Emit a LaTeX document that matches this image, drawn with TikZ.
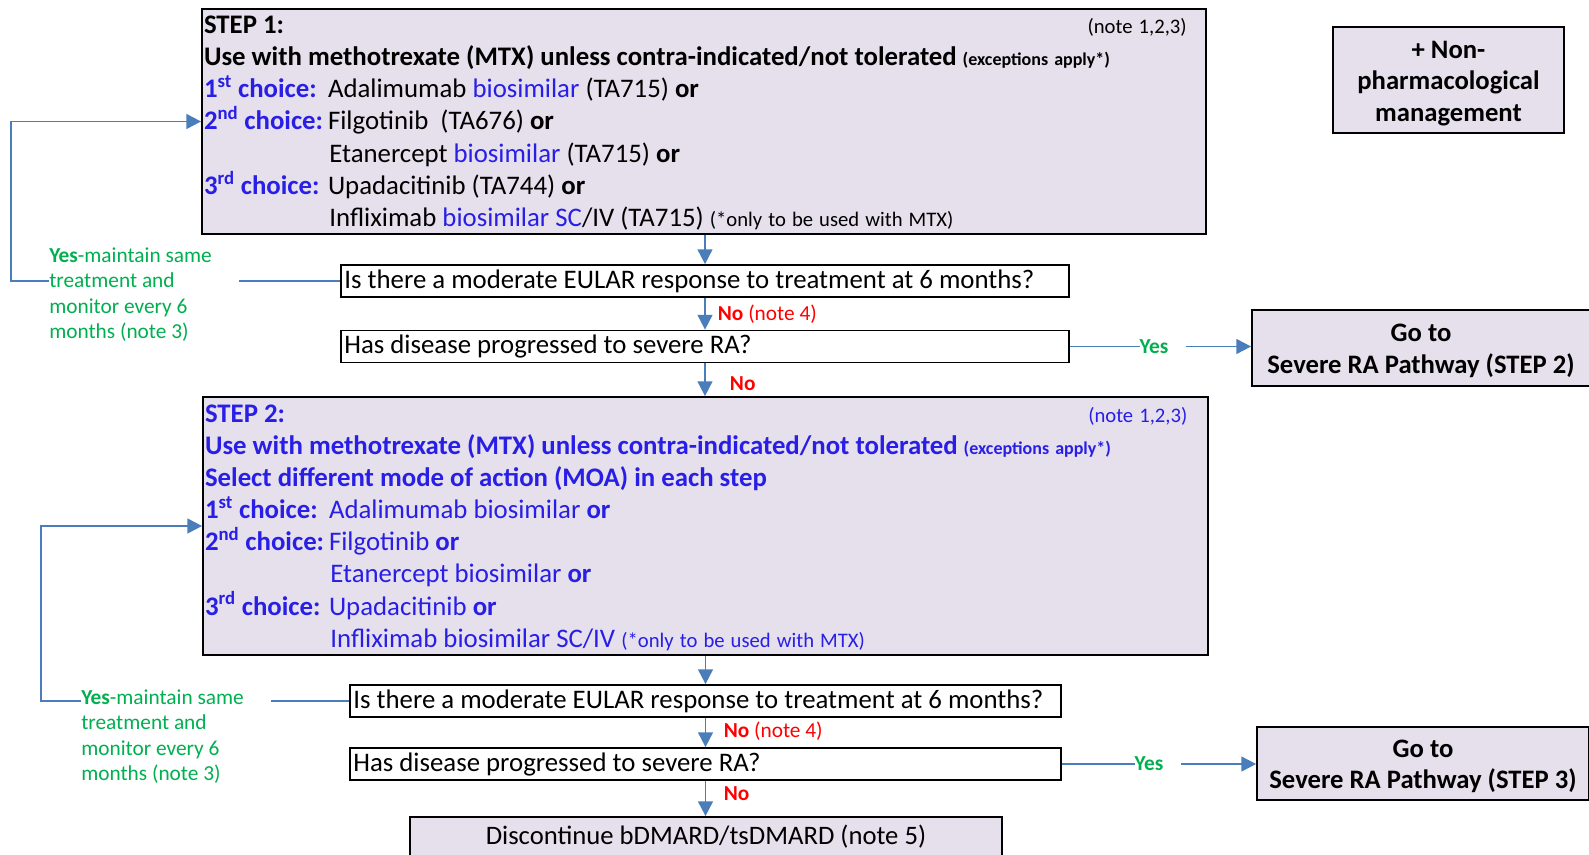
\documentclass[tikz,border=0pt]{standalone}
\usepackage{fontspec}
\setmainfont{Carlito}
\usetikzlibrary{arrows.meta,positioning}

\definecolor{stepblue}{RGB}{40,30,230}
\definecolor{yesgreen}{RGB}{0,176,80}
\definecolor{nored}{RGB}{255,0,0}
\definecolor{boxfill}{RGB}{229,224,236}
\definecolor{linkblue}{RGB}{74,126,187}

\newcommand{\natspace}{\spaceskip=0.226em plus 0.1em\relax}
\newcommand{\choicelabel}[2]{\makebox[93pt][l]{\textcolor{stepblue}{\textbf{#1\textsuperscript{#2} choice:}}}}
\newcommand{\nochoice}{\makebox[94pt]{}}
\newcommand{\smallnote}{\fontsize{13.5}{16}\selectfont}
\newcommand{\mtxnote}{\fontsize{15.5}{18}\selectfont}

\tikzset{
  stepbox/.style={draw=black, line width=1.3pt, fill=boxfill, inner xsep=1.5pt, inner ysep=0pt,
    align=left, font=\fontsize{20.1}{24.1}\selectfont},
  askbox/.style={draw=black, line width=1.3pt, fill=white, inner xsep=2.5pt, inner ysep=0pt,
    align=left, minimum height=24pt, font=\fontsize{20.1}{24}\selectfont},
  gobox/.style={draw=black, line width=1.3pt, fill=boxfill, align=center,
    font=\fontsize{20}{23.6}\selectfont\bfseries},
  endbox/.style={draw=black, line width=1.3pt, fill=boxfill, align=center,
    font=\fontsize{20}{24}\selectfont},
  flow/.style={draw=linkblue, line width=1.4pt, -{Triangle[length=11pt,width=11pt]}},
  link/.style={draw=linkblue, line width=1.4pt},
  yesnote/.style={text=yesgreen, font=\fontsize{16}{19}\selectfont, align=left,
    inner xsep=0pt, text width=141.75pt},
  nolabel/.style={text=nored, font=\fontsize{16}{19}\selectfont, inner sep=1pt},
  yeslabel/.style={text=yesgreen, font=\fontsize{16}{19}\selectfont\bfseries, fill=white,
    inner xsep=0pt, inner ysep=1pt, anchor=west}
}

\begin{document}
\begin{tikzpicture}[x=0.75pt,y=-0.75pt]
	\path[use as bounding box, fill=white] (0,0) rectangle (1589,855);

	% step 1
	\node[stepbox, minimum width=753pt, minimum height=168.75pt, text width=750pt] (step1) at (704,121.5) {\natspace
		\rule{0pt}{15.5pt}\textbf{STEP 1:}\hfill{\mtxnote(note 1,2,3)}\kern13pt\\
		\textbf{Use with methotrexate (MTX) unless contra-indicated/not tolerated} {\smallnote\textbf{(exceptions apply*)}}\\
		\choicelabel{1}{st}Adalimumab \textcolor{stepblue}{biosimilar} (TA715) \textbf{or}\\
		\choicelabel{2}{nd}Filgotinib~ (TA676) \textbf{or}\\
		\nochoice Etanercept \textcolor{stepblue}{biosimilar} (TA715) \textbf{or}\\
		\choicelabel{3}{rd}Upadacitinib (TA744) \textbf{or}\\
		\nochoice Infliximab \textcolor{stepblue}{biosimilar SC}/IV (TA715) {\mtxnote(*only to be used with MTX)}};
	\node[gobox, minimum width=173.25pt, minimum height=79.5pt] (nonpharm) at (1448.5,80)
		{\rule{0pt}{18pt}+ Non-\\pharmacological\\management};

	\node[askbox, minimum width=546pt, text width=541pt] (q1) at (705,281)
		{\natspace Is there a moderate EULAR response to treatment at 6 months?};
	\node[askbox, minimum width=546pt, text width=541pt] (q2) at (705,346.5)
		{\natspace Has disease progressed to severe RA?};
	\node[gobox, minimum width=253.5pt, minimum height=57pt] (goto2) at (1421,348)
		{\rule{0pt}{17.5pt}Go to\\Severe RA Pathway (STEP 2)};

	% step 2
	\node[stepbox, text=stepblue, minimum width=753.75pt, minimum height=193.5pt, text width=750.75pt] (step2) at (705.5,526) {\natspace
		\rule{0pt}{15.5pt}\textbf{STEP 2:}\hfill{\mtxnote(note 1,2,3)}\kern14pt\\
		\textbf{Use with methotrexate (MTX) unless contra-indicated/not tolerated} {\smallnote\textbf{(exceptions apply*)}}\\
		\textbf{Select different mode of action (MOA) in each step}\\
		\choicelabel{1}{st}Adalimumab biosimilar \textbf{or}\\
		\choicelabel{2}{nd}Filgotinib \textbf{or}\\
		\nochoice Etanercept biosimilar \textbf{or}\\
		\choicelabel{3}{rd}Upadacitinib \textbf{or}\\
		\nochoice Infliximab biosimilar SC/IV {\mtxnote(*only to be used with MTX)}};

	\node[askbox, minimum width=533.25pt, text width=528.25pt] (q3) at (705.5,701)
		{\natspace Is there a moderate EULAR response to treatment at 6 months?};
	\node[askbox, minimum width=533.25pt, text width=528.25pt] (q4) at (705.5,764)
		{\natspace Has disease progressed to severe RA?};
	\node[gobox, minimum width=249pt, minimum height=54.75pt] (goto3) at (1423,763.5)
		{\rule{0pt}{17.5pt}Go to\\Severe RA Pathway (STEP 3)};
	\node[endbox, minimum width=444pt, minimum height=30pt] (stop) at (706,837)
		{Discontinue bDMARD/tsDMARD (note 5)};

	% green side notes
	\node[yesnote, anchor=west] (yes1) at (49,294.5)
		{\natspace\textbf{Yes}-maintain same\\treatment and\\monitor every 6\\months (note 3)};
	\node[yesnote, anchor=west] (yes2) at (81,736.5)
		{\natspace\textbf{Yes}-maintain same\\treatment and\\monitor every 6\\months (note 3)};
	\coordinate (loop1) at (11,0);
	\coordinate (loop2) at (41,0);

	% connectors
	\draw[flow] (step1.south -| q1.north) -- (q1.north);
	\draw[flow] (q1.south) -- node[nolabel, right=8pt] {\textbf{No} (note 4)} (q2.north);
	\draw[flow] (q2.south) -- node[nolabel, pos=0.62, right=17pt] {\textbf{No}} (q2.south |- step2.north);
	\draw[flow] (step2.south -| q3.north) -- (q3.north);
	\draw[flow] (q3.south) -- node[nolabel, pos=0.44, right=12pt] {\textbf{No} (note 4)} (q4.north);
	\draw[flow] (q4.south) -- node[nolabel, pos=0.35, right=12pt] {\textbf{No}} (q4.south |- stop.north);

	\draw[flow] (q2.east) -- node[yeslabel, pos=0.38] {Yes\kern13pt} (q2.east -| goto2.west);
	\draw[flow] (q4.east) -- node[yeslabel, pos=0.37] {Yes\kern13pt} (q4.east -| goto3.west);

	\draw[link] (q1.west) -- (q1.west -| yes1.east);
	\draw[flow] (yes1.west |- q1.west) -- (loop1 |- q1.west) |- (step1.west);
	\draw[link] (q3.west) -- (q3.west -| yes2.east);
	\draw[flow] (yes2.west |- q3.west) -- (loop2 |- q3.west) |- (step2.west);
\end{tikzpicture}
\end{document}
